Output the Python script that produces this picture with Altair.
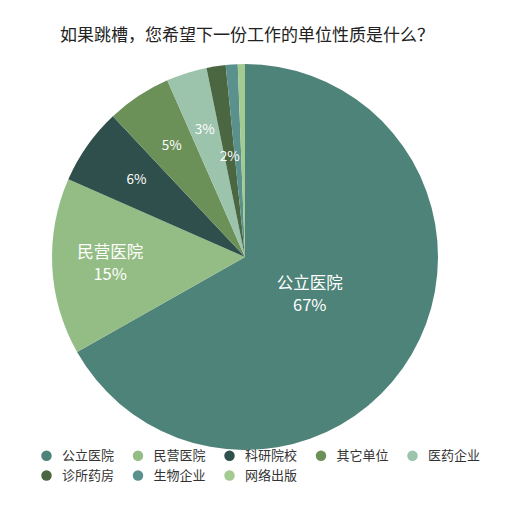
import altair as alt
import pandas as pd

title_text = "如果跳槽，您希望下一份工作的单位性质是什么？"
categories = ["公立医院", "民营医院", "科研院校", "其它单位", "医药企业", "诊所药房", "生物企业", "网络出版"]
values = [66.8, 14.8, 6.4, 5.4, 3.4, 1.6, 1.0, 0.6]
colors = ["#4e8379", "#94bd85", "#2f4f4c", "#6b9158", "#9cc3ab", "#4b6741", "#5b918c", "#a3ca91"]

df = pd.DataFrame({"cat": categories, "value": values, "idx": list(range(len(categories)))})
FONT = "Noto Sans CJK SC"

base = alt.Chart(df).transform_window(
    cum="sum(value)", sort=[alt.SortField("idx")], frame=[None, 0]
).transform_joinaggregate(
    total="sum(value)"
).transform_calculate(
    a0="2 * PI * (datum.cum - datum.value) / datum.total",
    a1="2 * PI * datum.cum / datum.total",
    amid="2 * PI * (datum.cum - datum.value / 2) / datum.total",
    pct="round(datum.value) + '%'",
    rr="datum.value > 50 ? 75 : (datum.value > 10 ? 135 : (datum.value < 2 ? 101 : 133))",
)

arcs = base.mark_arc(outerRadius=193, stroke=None).encode(
    x=alt.value(237),
    y=alt.value(199),
    theta=alt.Theta("a0:Q", scale=None),
    theta2="a1:Q",
    color=alt.Color(
        "cat:N",
        scale=alt.Scale(domain=categories, range=colors),
        sort=categories,
        legend=alt.Legend(
            title=None,
            orient="none",
            direction="horizontal",
            legendX=32,
            legendY=391,
            columns=5,
            symbolType="circle",
            symbolSize=110,
            symbolStrokeWidth=0,
            labelFont=FONT,
            labelFontSize=13,
            labelColor="#333333",
            labelOffset=9,
            columnPadding=16.5,
            rowPadding=6,
        ),
    ),
)

def text_layer(filter_expr, field, dy, size):
    return base.transform_filter(filter_expr).mark_text(
        font=FONT, color="white", baseline="middle", align="center", dy=dy, fontSize=size
    ).encode(
        x=alt.value(237),
        y=alt.value(199),
        theta=alt.Theta("amid:Q", scale=None),
        radius=alt.Radius("rr:Q", scale=None),
        text=f"{field}:N",
    )

big_names = text_layer("datum.value > 10", "cat", -11, 16.5)
big_pcts = text_layer("datum.value > 10", "pct", 11, 16.5)
small_pcts = text_layer("datum.value <= 10 && datum.value >= 1.5", "pct", 0, 13.5)

chart = alt.layer(arcs, big_names, big_pcts, small_pcts).properties(
    width=494,
    height=440,
    padding={"left": 0, "top": 50, "right": 0, "bottom": 0},
    autosize=alt.AutoSizeParams(type="none"),
    title=alt.TitleParams(
        title_text,
        anchor="start",
        frame="group",
        dx=52,
        offset=13,
        font=FONT,
        fontSize=17,
        fontWeight="normal",
        color="#222222",
    ),
).configure_view(stroke=None)

chart.save("out.html", embed_options={"renderer": "svg", "actions": False})
